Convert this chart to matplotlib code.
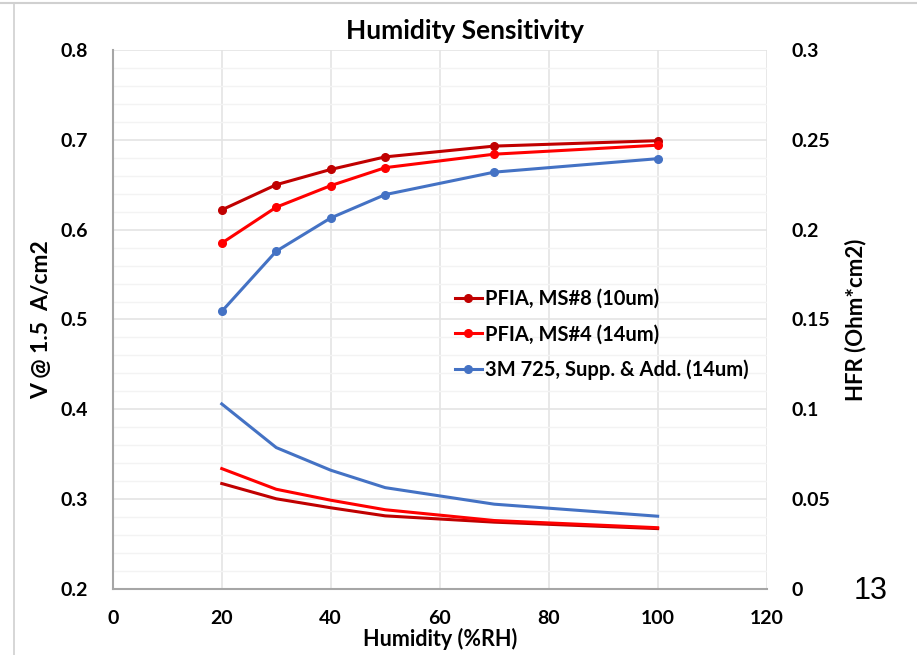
#!/usr/bin/env python3
import matplotlib
matplotlib.use('Agg')
import matplotlib.pyplot as plt
from matplotlib.lines import Line2D

# Humidity sensitivity: cell voltage (left) and HFR (right)

humidity = [20, 30, 40, 50, 70, 100]
series_names = ["PFIA, MS#8 (10um)", "PFIA, MS#4 (14um)", "3M 725, Supp. & Add. (14um)"]

v_ms8 = [0.622, 0.650, 0.667, 0.681, 0.693, 0.699]
v_ms4 = [0.585, 0.625, 0.649, 0.669, 0.684, 0.694]
v_3m = [0.509, 0.576, 0.613, 0.639, 0.664, 0.679]

hfr_ms8 = [0.0587, 0.0502, 0.0452, 0.0407, 0.0372, 0.0336]
hfr_ms4 = [0.0670, 0.0555, 0.0494, 0.0441, 0.0381, 0.0341]
hfr_3m = [0.1030, 0.0787, 0.0661, 0.0564, 0.0472, 0.0405]

colors = ['#C00000', '#FF0000', '#4472C4']

plt.rcParams['font.family'] = ['Lato', 'DejaVu Sans']
plt.rcParams['font.weight'] = 'bold'

fig = plt.figure(figsize=(9.17, 6.55), dpi=100)
ax = fig.add_axes([0.123, 0.1008, 0.713, 0.8229])
ax2 = ax.twinx()

for v, c, name in zip([v_ms8, v_ms4, v_3m], colors, series_names):
    ax.plot(humidity, v, color=c, lw=2.2, marker='o', ms=5.5, label=name, zorder=3)
for h, c in zip([hfr_ms8, hfr_ms4, hfr_3m], colors):
    ax2.plot(humidity, h, color=c, lw=2.2, zorder=3)

ax.set_xlim(0, 120)
ax.set_ylim(0.2, 0.8)
ax2.set_ylim(0, 0.3)
ax.set_xticks(range(0, 121, 20))
ax.set_yticks([0.2, 0.3, 0.4, 0.5, 0.6, 0.7, 0.8])
ax.set_yticks([0.2 + 0.02 * i for i in range(31)], minor=True)
ax2.set_yticks([0, 0.05, 0.1, 0.15, 0.2, 0.25, 0.3])
ax2.set_yticklabels(['0', '0.05', '0.1', '0.15', '0.2', '0.25', '0.3'])
ax.set_yticklabels(['0.2', '0.3', '0.4', '0.5', '0.6', '0.7', '0.8'])

ax.grid(True, which='major', color='#E4E4E4', lw=1.2)
ax.grid(True, which='minor', axis='y', color='#F3F3F3', lw=1.0)
ax.set_axisbelow(True)

for a in (ax, ax2):
    a.tick_params(which='both', length=0, labelsize=14)
    for lab in a.get_xticklabels() + a.get_yticklabels():
        lab.set_fontweight('bold')
    for s in a.spines.values():
        s.set_visible(False)
ax.tick_params(axis='y', pad=18)
ax2.tick_params(axis='y', pad=18)
ax.tick_params(axis='x', pad=15)
ax.spines['left'].set_visible(True)
ax.spines['bottom'].set_visible(True)
ax.spines['left'].set_color('#A6A6A6')
ax.spines['bottom'].set_color('#A6A6A6')
ax.spines['left'].set_linewidth(1.5)
ax.spines['bottom'].set_linewidth(1.5)

ax.set_title('Humidity Sensitivity', fontsize=19, fontweight='bold', pad=8, x=0.538)
ax.set_xlabel('Humidity (%RH)', fontsize=15.5, fontweight='bold', labelpad=1)
ax.set_ylabel('V @ 1.5  A/cm2', fontsize=16.5, fontweight='bold', labelpad=6)
ax2.set_ylabel('HFR (Ohm*cm2)', fontsize=16, fontweight='bold', labelpad=10)

ax.legend(loc='upper left', bbox_to_anchor=(0.4955, 0.59), frameon=False,
          handlelength=1.35, handletextpad=0.15, labelspacing=0.75,
          prop={'weight': 'bold', 'size': 14.5})

# slide frame and page number
fig.add_artist(Line2D([0, 1], [0.996, 0.996], color='#D0D0D0', lw=1.5))
fig.add_artist(Line2D([0.015, 0.015], [0, 0.996], color='#D0D0D0', lw=1.2))
fig.text(0.968, 0.085, '13', fontsize=22, fontweight='normal',
         family='Liberation Sans', ha='right', va='baseline')

fig.savefig('out.png', dpi=100)
